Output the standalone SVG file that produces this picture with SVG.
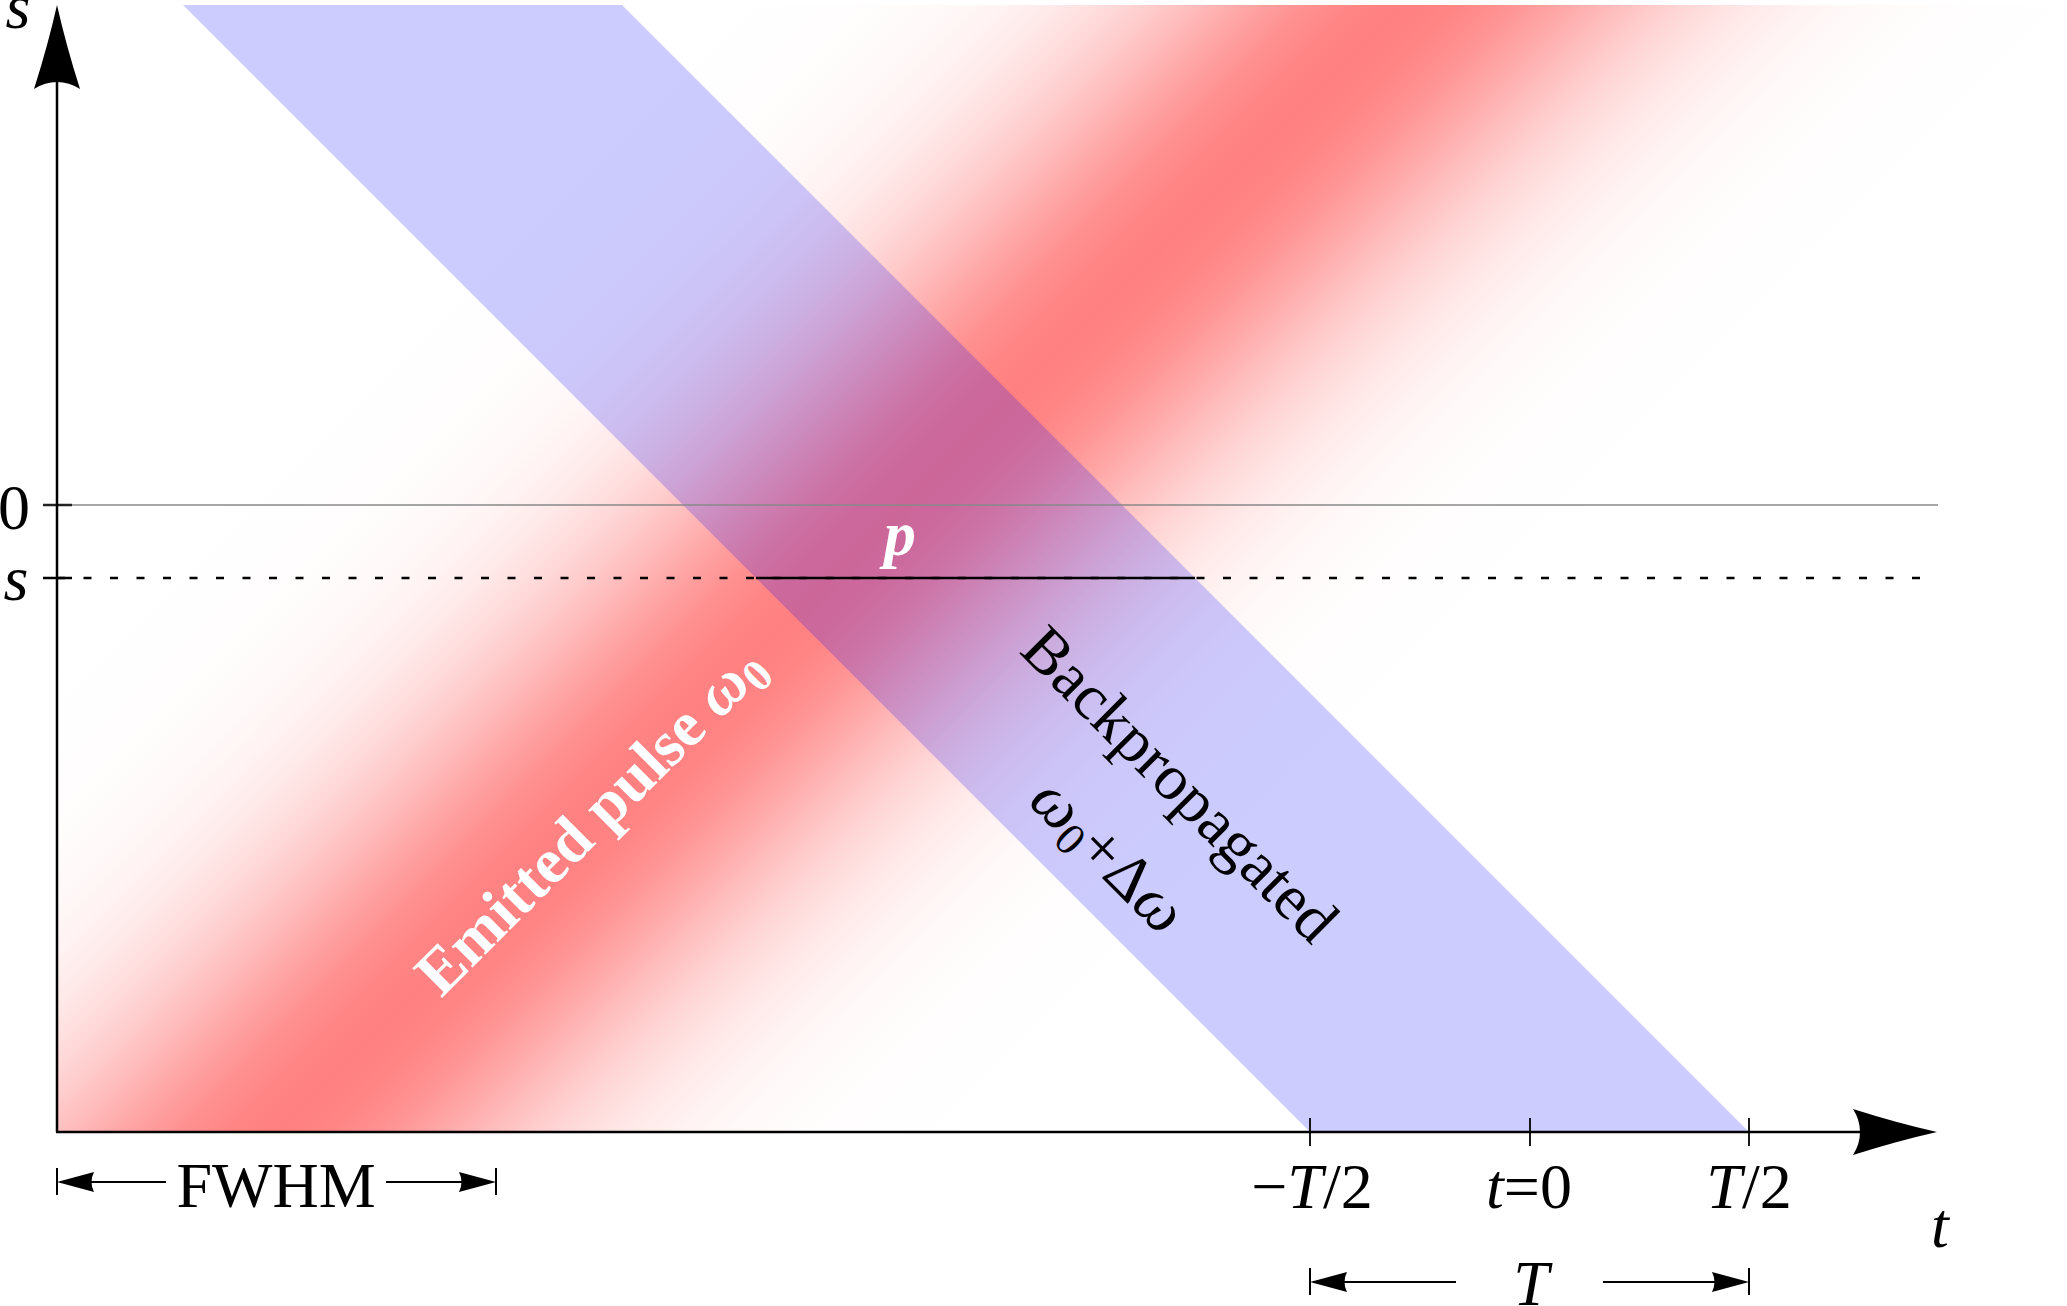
<svg xmlns="http://www.w3.org/2000/svg" xmlns:xlink="http://www.w3.org/1999/xlink" width="2067" height="1306" viewBox="0 0 2067 1306">
<style>
.lbl{font-family:"Liberation Serif","DejaVu Serif",serif;font-size:64px;fill:#000}
.it{font-style:italic}
.ax{stroke:#000;stroke-width:2.5;fill:none}
.tk{stroke:#000;stroke-width:1.8;fill:none}
.dim{stroke:#000;stroke-width:2;fill:none}
</style>
<defs>
<linearGradient id="redg" gradientUnits="userSpaceOnUse" x1="410" y1="0" x2="1410" y2="1000">
<stop offset="0" stop-color="#ff8080" stop-opacity="0"/>
<stop offset="0.15" stop-color="#ff8080" stop-opacity="0.001"/>
<stop offset="0.2" stop-color="#ff8080" stop-opacity="0.0056"/>
<stop offset="0.25" stop-color="#ff8080" stop-opacity="0.0274"/>
<stop offset="0.275" stop-color="#ff8080" stop-opacity="0.0543"/>
<stop offset="0.3" stop-color="#ff8080" stop-opacity="0.100"/>
<stop offset="0.325" stop-color="#ff8080" stop-opacity="0.1715"/>
<stop offset="0.35" stop-color="#ff8080" stop-opacity="0.274"/>
<stop offset="0.375" stop-color="#ff8080" stop-opacity="0.407"/>
<stop offset="0.4" stop-color="#ff8080" stop-opacity="0.562"/>
<stop offset="0.425" stop-color="#ff8080" stop-opacity="0.723"/>
<stop offset="0.45" stop-color="#ff8080" stop-opacity="0.866"/>
<stop offset="0.475" stop-color="#ff8080" stop-opacity="0.9646"/>
<stop offset="0.5" stop-color="#ff8080" stop-opacity="1"/>
<stop offset="0.525" stop-color="#ff8080" stop-opacity="0.9646"/>
<stop offset="0.55" stop-color="#ff8080" stop-opacity="0.866"/>
<stop offset="0.575" stop-color="#ff8080" stop-opacity="0.723"/>
<stop offset="0.6" stop-color="#ff8080" stop-opacity="0.562"/>
<stop offset="0.625" stop-color="#ff8080" stop-opacity="0.407"/>
<stop offset="0.65" stop-color="#ff8080" stop-opacity="0.274"/>
<stop offset="0.675" stop-color="#ff8080" stop-opacity="0.1715"/>
<stop offset="0.7" stop-color="#ff8080" stop-opacity="0.100"/>
<stop offset="0.725" stop-color="#ff8080" stop-opacity="0.0543"/>
<stop offset="0.75" stop-color="#ff8080" stop-opacity="0.0274"/>
<stop offset="0.8" stop-color="#ff8080" stop-opacity="0.0056"/>
<stop offset="0.85" stop-color="#ff8080" stop-opacity="0.001"/>
<stop offset="1" stop-color="#ff8080" stop-opacity="0"/>
</linearGradient>
<path id="bigHead" d="M0,0 Q-40,-9 -84,-23 Q-77,-12 -77,0 Q-77,12 -84,23 Q-40,9 0,0 Z" fill="#000"/>
<path id="smallHead" d="M0,0 L-37,-10 Q-32,0 -37,10 Z" fill="#000"/>
</defs>
<rect width="2067" height="1306" fill="#fff"/>

<g id="emitted-pulse-band">
<rect x="57" y="5" width="2010" height="1127" fill="url(#redg)"/>
</g>
<g id="backpropagated-band">
<polygon points="183,5 622,5 1749,1132 1310,1132" fill="#0000ff" fill-opacity="0.2"/>
</g>

<g id="connectors">
<line x1="57" y1="505" x2="1938" y2="505" stroke="#888" stroke-width="1.5"/>
<line x1="57" y1="578" x2="1938" y2="578" stroke="#000" stroke-width="2.5" stroke-dasharray="8 18.5"/>
<line x1="756" y1="578" x2="1195" y2="578" stroke="#000" stroke-width="2.5"/>
<line x1="43" y1="505" x2="72" y2="505" stroke="#222" stroke-width="2.5"/>
<line x1="43" y1="578" x2="72" y2="578" stroke="#000" stroke-width="2.5"/>
<line class="ax" x1="57" y1="1132" x2="57" y2="80"/>
<line class="ax" x1="56" y1="1132" x2="1863" y2="1132"/>
<use xlink:href="#bigHead" transform="translate(57,5) rotate(-90)"/>
<use xlink:href="#bigHead" transform="translate(1937,1132)"/>
<line class="tk" x1="1310" y1="1118" x2="1310" y2="1146"/>
<line class="tk" x1="1530" y1="1118" x2="1530" y2="1146"/>
<line class="tk" x1="1749" y1="1118" x2="1749" y2="1146"/>
<line class="dim" x1="57" y1="1168" x2="57" y2="1195"/>
<line class="dim" x1="496" y1="1168" x2="496" y2="1195"/>
<line class="dim" x1="60" y1="1182" x2="166" y2="1182"/>
<line class="dim" x1="386" y1="1182" x2="492" y2="1182"/>
<use xlink:href="#smallHead" transform="translate(57,1182) rotate(180)"/>
<use xlink:href="#smallHead" transform="translate(496,1182)"/>
<line class="dim" x1="1310" y1="1268" x2="1310" y2="1295"/>
<line class="dim" x1="1749" y1="1268" x2="1749" y2="1295"/>
<line class="dim" x1="1313" y1="1282" x2="1456" y2="1282"/>
<line class="dim" x1="1603" y1="1282" x2="1745" y2="1282"/>
<use xlink:href="#smallHead" transform="translate(1310,1282) rotate(180)"/>
<use xlink:href="#smallHead" transform="translate(1749,1282)"/>
</g>

<g id="axis-labels">
<text class="lbl it" x="18" y="28" text-anchor="middle">s</text>
<text class="lbl" x="14" y="529" text-anchor="middle">0</text>
<text class="lbl it" x="16" y="600" text-anchor="middle">s</text>
<text class="lbl it" x="1940" y="1247" text-anchor="middle">t</text>
<text class="lbl" x="1312" y="1208" text-anchor="middle">−<tspan class="it">T</tspan>/2</text>
<text class="lbl" x="1529" y="1208" text-anchor="middle"><tspan class="it">t</tspan>=0</text>
<text class="lbl" x="1749" y="1208" text-anchor="middle"><tspan class="it">T</tspan>/2</text>
<text class="lbl" x="276" y="1207" text-anchor="middle">FWHM</text>
<text class="lbl it" x="1531" y="1305" text-anchor="middle">T</text>
</g>

<g id="point-p">
<text class="lbl it" x="900" y="555" text-anchor="middle" style="fill:#fff;font-weight:bold">p</text>
</g>

<g id="emitted-label">
<text class="lbl" transform="translate(605,835) rotate(-45)" text-anchor="middle" style="fill:#fff;font-weight:bold">Emitted pulse <tspan class="it">ω</tspan><tspan font-size="45" dy="10">0</tspan></text>
</g>

<g id="backprop-label">
<text class="lbl" transform="translate(1165,799) rotate(45)" text-anchor="middle">Backpropagated</text>
<text class="lbl" transform="translate(1094,870) rotate(45)" text-anchor="middle"><tspan class="it">ω</tspan><tspan font-size="45" dy="10">0</tspan><tspan dy="-10">+Δ</tspan><tspan class="it">ω</tspan></text>
</g>
</svg>
